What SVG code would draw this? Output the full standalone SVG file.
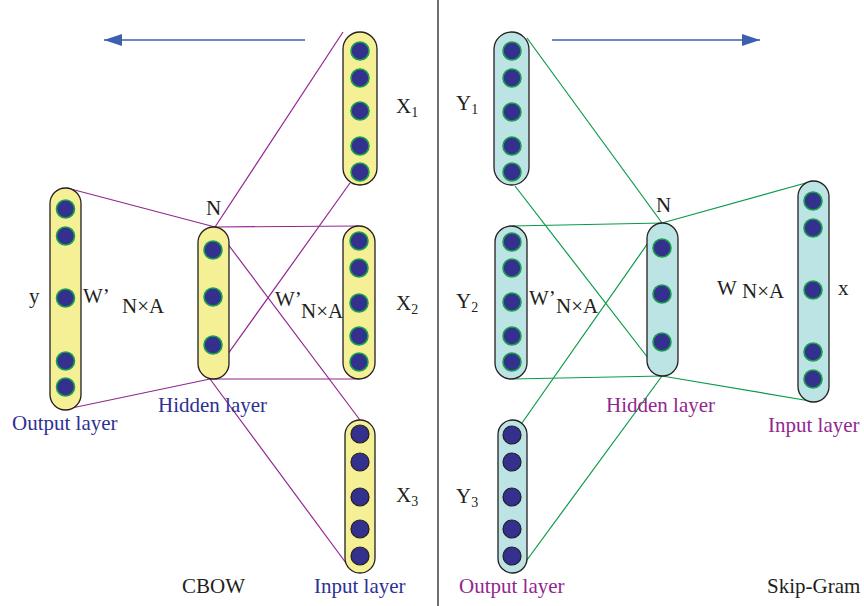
<svg xmlns="http://www.w3.org/2000/svg" width="864" height="606" viewBox="0 0 864 606">
  <defs>
    <style>
      .pill-y { fill: #f5f096; stroke: #231f20; stroke-width: 1.3; }
      .pill-c { fill: #bde4e4; stroke: #231f20; stroke-width: 1.3; }
      .dot { fill: #34318e; stroke: #1aa04a; stroke-width: 1.6; }
      .dot-d { fill: #34318e; stroke: #231f20; stroke-width: 1.2; }
      .wire-p { stroke: #92278f; stroke-width: 1.2; fill: none; }
      .wire-g { stroke: #0a9a48; stroke-width: 1.2; fill: none; }
      .arrow { stroke: #3d5fb0; stroke-width: 1.5; fill: none; }
      text { font-family: "Liberation Serif", "DejaVu Serif", serif; font-size: 21px; fill: #231f20; }
      .lab-b { fill: #2e3192; }
      .lab-m { fill: #92278f; }
      .sub { font-size: 14px; }
    </style>
    <marker id="head" viewBox="0 0 18 12" refX="18" refY="6" markerWidth="18" markerHeight="12" markerUnits="userSpaceOnUse" orient="auto">
      <path d="M0,0 L18,6 L0,12 Z" fill="#3d5fb0"/>
    </marker>
  </defs>

  <rect width="864" height="606" fill="#ffffff"/>

  <!-- divider between the two models -->
  <line x1="438" y1="0" x2="438" y2="606" stroke="#231f20" stroke-width="1.3"/>

  <!-- connectors -->
  <g id="connectors">
    <line class="arrow" x1="305" y1="40" x2="104" y2="40" marker-end="url(#head)"/>
    <line class="arrow" x1="552" y1="40" x2="760" y2="40" marker-end="url(#head)"/>

    <!-- CBOW -->
    <line class="wire-p" x1="343" y1="32" x2="215" y2="227"/>
    <line class="wire-p" x1="350" y1="183" x2="210" y2="379"/>
    <line class="wire-p" x1="67" y1="188" x2="215" y2="227"/>
    <line class="wire-p" x1="67" y1="409" x2="210" y2="379"/>
    <line class="wire-p" x1="215" y1="227" x2="359" y2="226"/>
    <line class="wire-p" x1="210" y1="379" x2="359" y2="379"/>
    <line class="wire-p" x1="215" y1="227" x2="360" y2="420"/>
    <line class="wire-p" x1="210" y1="379" x2="346" y2="563"/>

    <!-- Skip-Gram -->
    <line class="wire-g" x1="527" y1="38" x2="662" y2="223"/>
    <line class="wire-g" x1="515" y1="186" x2="662" y2="376"/>
    <line class="wire-g" x1="512" y1="226" x2="662" y2="223"/>
    <line class="wire-g" x1="512" y1="379" x2="662" y2="376"/>
    <line class="wire-g" x1="662" y1="223" x2="813" y2="181"/>
    <line class="wire-g" x1="662" y1="376" x2="810" y2="401"/>
    <line class="wire-g" x1="662" y1="223" x2="522" y2="423"/>
    <line class="wire-g" x1="662" y1="376" x2="524" y2="564"/>
  </g>

  <!-- CBOW nodes -->
  <g id="cbow-output">
    <rect class="pill-y" x="50" y="188" width="31" height="222" rx="15.5"/>
    <circle class="dot" cx="65.5" cy="209" r="9"/>
    <circle class="dot" cx="65.5" cy="236" r="9"/>
    <circle class="dot" cx="65.5" cy="298" r="9"/>
    <circle class="dot" cx="65.5" cy="361" r="9"/>
    <circle class="dot" cx="65.5" cy="387" r="9"/>
  </g>
  <g id="cbow-hidden">
    <rect class="pill-y" x="198" y="227" width="31" height="152" rx="15.5"/>
    <circle class="dot" cx="213" cy="250" r="9"/>
    <circle class="dot" cx="213" cy="297" r="9"/>
    <circle class="dot" cx="213" cy="345" r="9"/>
  </g>
  <g id="cbow-x1">
    <rect class="pill-y" x="343" y="32" width="34" height="153" rx="17"/>
    <circle class="dot" cx="360" cy="51" r="9"/>
    <circle class="dot" cx="360" cy="78" r="9"/>
    <circle class="dot" cx="360" cy="111" r="9"/>
    <circle class="dot" cx="360" cy="146" r="9"/>
    <circle class="dot" cx="360" cy="172" r="9"/>
  </g>
  <g id="cbow-x2">
    <rect class="pill-y" x="343" y="226" width="32" height="153" rx="16"/>
    <circle class="dot" cx="359" cy="241" r="9"/>
    <circle class="dot" cx="359" cy="268" r="9"/>
    <circle class="dot" cx="359" cy="303" r="9"/>
    <circle class="dot" cx="359" cy="336" r="9"/>
    <circle class="dot" cx="359" cy="362" r="9"/>
  </g>
  <g id="cbow-x3">
    <rect class="pill-y" x="345" y="420" width="30" height="153" rx="15"/>
    <circle class="dot-d" cx="360" cy="434" r="9"/>
    <circle class="dot-d" cx="360" cy="462" r="9"/>
    <circle class="dot-d" cx="360" cy="497" r="9"/>
    <circle class="dot-d" cx="360" cy="529" r="9"/>
    <circle class="dot-d" cx="360" cy="556" r="9"/>
  </g>

  <!-- Skip-Gram nodes -->
  <g id="sg-y1">
    <rect class="pill-c" x="494" y="32" width="35" height="153" rx="17.5"/>
    <circle class="dot" cx="512" cy="51" r="9"/>
    <circle class="dot" cx="512" cy="78" r="9"/>
    <circle class="dot" cx="512" cy="112" r="9"/>
    <circle class="dot" cx="512" cy="146" r="9"/>
    <circle class="dot" cx="512" cy="172" r="9"/>
  </g>
  <g id="sg-y2">
    <rect class="pill-c" x="495" y="226" width="32" height="153" rx="16"/>
    <circle class="dot" cx="512" cy="242" r="9"/>
    <circle class="dot" cx="512" cy="268" r="9"/>
    <circle class="dot" cx="512" cy="302" r="9"/>
    <circle class="dot" cx="512" cy="336" r="9"/>
    <circle class="dot" cx="512" cy="362" r="9"/>
  </g>
  <g id="sg-y3">
    <rect class="pill-c" x="498" y="420" width="29" height="153" rx="14.5"/>
    <circle class="dot-d" cx="512" cy="435" r="9"/>
    <circle class="dot-d" cx="512" cy="462" r="9"/>
    <circle class="dot-d" cx="512" cy="497" r="9"/>
    <circle class="dot-d" cx="512" cy="529" r="9"/>
    <circle class="dot-d" cx="512" cy="556" r="9"/>
  </g>
  <g id="sg-hidden">
    <rect class="pill-c" x="647" y="223" width="31" height="153" rx="15.5"/>
    <circle class="dot" cx="662" cy="248" r="9"/>
    <circle class="dot" cx="662" cy="294" r="9"/>
    <circle class="dot" cx="662" cy="342" r="9"/>
  </g>
  <g id="sg-input">
    <rect class="pill-c" x="798" y="181" width="31" height="221" rx="15.5"/>
    <circle class="dot" cx="813" cy="201" r="9"/>
    <circle class="dot" cx="813" cy="228" r="9"/>
    <circle class="dot" cx="813" cy="290" r="9"/>
    <circle class="dot" cx="813" cy="352" r="9"/>
    <circle class="dot" cx="813" cy="379" r="9"/>
  </g>

  <!-- CBOW labels -->
  <g id="cbow-labels">
    <text x="396" y="113">X<tspan class="sub" dy="4">1</tspan></text>
    <text x="396" y="310">X<tspan class="sub" dy="4">2</tspan></text>
    <text x="396" y="502">X<tspan class="sub" dy="4">3</tspan></text>
    <text x="29" y="303">y</text>
    <text x="83" y="303">W’</text>
    <text x="122" y="313">N×A</text>
    <text x="206" y="215">N</text>
    <text x="275" y="306">W’</text>
    <text x="301" y="318">N×A</text>
    <text class="lab-b" x="158" y="412">Hidden layer</text>
    <text class="lab-b" x="12" y="430">Output layer</text>
    <text class="lab-b" x="314" y="593">Input layer</text>
    <text x="182" y="593">CBOW</text>
  </g>

  <!-- Skip-Gram labels -->
  <g id="sg-labels">
    <text x="456" y="110">Y<tspan class="sub" dy="4">1</tspan></text>
    <text x="456" y="308">Y<tspan class="sub" dy="4">2</tspan></text>
    <text x="456" y="503">Y<tspan class="sub" dy="4">3</tspan></text>
    <text x="529" y="305">W’</text>
    <text x="556" y="313">N×A</text>
    <text x="656" y="212">N</text>
    <text x="717" y="295">W</text>
    <text x="742" y="298">N×A</text>
    <text x="838" y="295">x</text>
    <text class="lab-m" x="606" y="412">Hidden layer</text>
    <text class="lab-m" x="768" y="432">Input layer</text>
    <text class="lab-m" x="459" y="593">Output layer</text>
    <text x="767" y="593">Skip-Gram</text>
  </g>
</svg>
